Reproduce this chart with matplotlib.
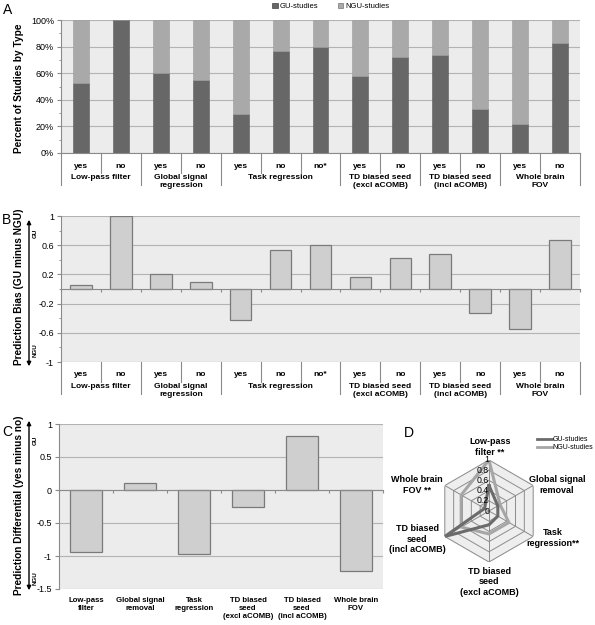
import matplotlib
matplotlib.use('Agg')
import matplotlib.pyplot as plt
import numpy as np
from matplotlib.patches import Patch, FancyArrowPatch
from matplotlib.lines import Line2D
from matplotlib.transforms import blended_transform_factory

plt.rcParams['font.family'] = ['Liberation Sans', 'DejaVu Sans']

# ---- data ----
sub_labels = ['yes', 'no', 'yes', 'no', 'yes', 'no', 'no*', 'yes', 'no', 'yes', 'no', 'yes', 'no']
groups = ['Low-pass filter', 'Global signal\nregression', 'Task regression',
          'TD biased seed\n(excl aCOMB)', 'TD biased seed\n(incl aCOMB)', 'Whole brain\nFOV']
group_sizes = [2, 2, 3, 2, 2, 2]

gu_pct = [53, 100, 60, 55, 29, 77, 80, 58, 72, 74, 33, 22, 83]
ngu_pct = [100 - v for v in gu_pct]

bias = [0.06, 1.0, 0.20, 0.09, -0.43, 0.54, 0.60, 0.17, 0.43, 0.48, -0.33, -0.55, 0.67]

diff_labels = ['Low-pass\nfilter', 'Global signal\nremoval', 'Task\nregression',
               'TD biased\nseed\n(excl aCOMB)', 'TD biased\nseed\n(incl aCOMB)', 'Whole brain\nFOV']
diff = [-0.94, 0.11, -0.97, -0.26, 0.82, -1.23]

radar_labels = ['Low-pass\nfilter **', 'Global signal\nremoval', 'Task\nregression**',
                'TD biased\nseed\n(excl aCOMB)', 'TD biased\nseed\n(incl aCOMB)', 'Whole brain\nFOV **']
radar_gu = [0.5, 0.2, 0.2, 0.27, 1.0, 0.1]
radar_ngu = [1.0, 0.25, 0.45, 0.45, 0.63, 0.63]

# ---- layout helpers (pixel coords, origin top-left) ----
W, H = 595, 625
fig = plt.figure(figsize=(W / 100, H / 100), dpi=100)


def rect(l, t, r, b):
    return [l / W, 1 - b / H, (r - l) / W, (b - t) / H]


def fx(x):
    return x / W


def fy(y):
    return 1 - y / H


EDGE = '#8a8a8a'
BG = '#ececec'
GRID = '#b3b3b3'


def style_axes(ax):
    ax.set_facecolor(BG)
    ax.grid(axis='y', color=GRID, lw=0.8)
    ax.set_axisbelow(True)
    for s in ['top', 'right']:
        ax.spines[s].set_visible(False)
    ax.spines['left'].set_color(EDGE)
    ax.spines['bottom'].set_color(EDGE)
    ax.tick_params(axis='y', labelsize=6.5, length=3, color=EDGE, pad=2)
    ax.tick_params(axis='y', which='minor', length=1.5, color=EDGE)


def draw_table(ax, bottom):
    tr = blended_transform_factory(ax.transData, fig.transFigure)
    bounds = np.cumsum([0] + group_sizes) - 0.5
    for b in bounds:
        ax.plot([b, b], [fy(bottom), fy(bottom + 32)], transform=tr,
                color=EDGE, lw=0.8, clip_on=False)
    for i in range(len(sub_labels) - 1):
        b = i + 0.5
        if b not in bounds:
            ax.plot([b, b], [fy(bottom), fy(bottom + 20)], transform=tr,
                    color=EDGE, lw=0.8, clip_on=False)
    for i, s in enumerate(sub_labels):
        ax.text(i, fy(bottom + 13), s, transform=tr, ha='center', va='center',
                fontsize=6, weight='bold')
    centers = bounds[:-1] + np.array(group_sizes) / 2
    for c, g in zip(centers, groups):
        ax.text(c, fy(bottom + 20.5), g, transform=tr, ha='center', va='top',
                fontsize=6, weight='bold', linespacing=1.35)


def side_arrow(top, bottom):
    fig.add_artist(FancyArrowPatch((fx(29), fy(top)), (fx(29), fy(bottom)),
                                   transform=fig.transFigure, arrowstyle='<|-|>',
                                   mutation_scale=6, lw=1.0, color='black'))


x = np.arange(len(sub_labels))

# ---- Panel A ----
ax_a = fig.add_axes(rect(61, 20, 580, 153))
ax_a.bar(x, gu_pct, 0.4, color='#676767', edgecolor='#5c5c5c', lw=0.4)
ax_a.bar(x, ngu_pct, 0.4, bottom=gu_pct, color='#a9a9a9', edgecolor='#9c9c9c', lw=0.4)
ax_a.set_xlim(-0.5, 12.5)
ax_a.set_ylim(0, 100)
style_axes(ax_a)
ax_a.set_yticks(np.arange(0, 101, 20))
ax_a.set_yticklabels([f'{v}%' for v in range(0, 101, 20)])
ax_a.set_yticks(np.arange(10, 100, 20), minor=True)
ax_a.set_xticks([])
draw_table(ax_a, 153)
ax_a.legend([Patch(facecolor='#676767', edgecolor='#444444', lw=0.5),
             Patch(facecolor='#a9a9a9', edgecolor='#777777', lw=0.5)],
            ['GU-studies', 'NGU-studies'], ncol=2, loc='center',
            bbox_to_anchor=(0.52, 1.1), frameon=False, fontsize=5.5,
            handlelength=0.7, handleheight=0.7, handletextpad=0.3,
            columnspacing=2.5, borderpad=0)
fig.text(fx(19), fy(88), 'Percent of Studies by Type', rotation=90,
         ha='center', va='center', fontsize=7.3, weight='bold')
fig.text(fx(3), fy(10), 'A', fontsize=10, va='center')

# ---- Panel B ----
ax_b = fig.add_axes(rect(61, 216, 580, 362))
ax_b.bar(x, bias, 0.54, color='#cfcfcf', edgecolor='#7a7a7a', lw=0.9)
ax_b.set_xlim(-0.5, 12.5)
ax_b.set_ylim(-1, 1)
style_axes(ax_b)
ax_b.set_yticks([-1, -0.6, -0.2, 0.2, 0.6, 1])
ax_b.set_yticklabels(['-1', '-0.6', '-0.2', '0.2', '0.6', '1'])
ax_b.set_yticks([-0.8, -0.4, 0, 0.4, 0.8], minor=True)
ax_b.spines['bottom'].set_position(('data', 0))
ax_b.set_xticks(np.arange(-0.5, 13, 1))
ax_b.set_xticklabels([])
ax_b.tick_params(axis='x', length=2, color=EDGE)
ax_b.axhline(-1, color=GRID, lw=0.8)
draw_table(ax_b, 362)
fig.text(fx(19), fy(287), 'Prediction Bias (GU minus NGU)', rotation=90,
         ha='center', va='center', fontsize=7.3, weight='bold')
side_arrow(217, 369)
fig.text(fx(35), fy(233), 'GU', rotation=90, ha='center', va='center', fontsize=4.5, weight='bold')
fig.text(fx(35), fy(350), 'NGU', rotation=90, ha='center', va='center', fontsize=4.5, weight='bold')
fig.text(fx(2), fy(220), 'B', fontsize=10, va='center')

# ---- Panel C ----
xc = np.arange(len(diff))
ax_c = fig.add_axes(rect(59, 424, 383, 589))
ax_c.bar(xc, diff, 0.58, color='#cfcfcf', edgecolor='#7a7a7a', lw=0.9)
ax_c.set_xlim(-0.5, 5.5)
ax_c.set_ylim(-1.5, 1)
style_axes(ax_c)
ax_c.set_yticks([-1.5, -1, -0.5, 0, 0.5, 1])
ax_c.set_yticklabels(['-1.5', '-1', '-0.5', '0', '0.5', '1'])
ax_c.spines['bottom'].set_position(('data', 0))
ax_c.set_xticks(np.arange(-0.5, 6, 1))
ax_c.set_xticklabels([])
ax_c.tick_params(axis='x', length=2, color=EDGE)
tr_c = blended_transform_factory(ax_c.transData, fig.transFigure)
for i, s in enumerate(diff_labels):
    ax_c.text(i, fy(597), s, transform=tr_c, ha='center', va='top',
              fontsize=5.6, weight='bold', linespacing=1.15)
fig.text(fx(19), fy(505), 'Prediction Differential (yes minus no)', rotation=90,
         ha='center', va='center', fontsize=7.3, weight='bold')
side_arrow(418, 593)
fig.text(fx(35), fy(440), 'GU', rotation=90, ha='center', va='center', fontsize=4.5, weight='bold')
fig.text(fx(35), fy(578), 'NGU', rotation=90, ha='center', va='center', fontsize=4.5, weight='bold')
fig.text(fx(2), fy(432), 'C', fontsize=10, va='center')

# ---- Panel D (radar) ----
ax_d = fig.add_axes(rect(438, 460, 540, 562), projection='polar')
ax_d.set_theta_zero_location('N')
ax_d.set_theta_direction(-1)
angles = np.linspace(0, 2 * np.pi, len(radar_labels), endpoint=False)
ang_closed = np.append(angles, angles[0])
ax_d.fill(ang_closed, np.ones(7), color='#eeeeee', zorder=0)
for lev in [0.2, 0.4, 0.6, 0.8, 1.0]:
    ax_d.plot(ang_closed, np.full(7, lev), color='#8c8c8c', lw=0.7, zorder=1)
for a in angles:
    ax_d.plot([a, a], [0, 1], color='#8c8c8c', lw=0.7, zorder=1)
ax_d.plot(ang_closed, np.append(radar_ngu, radar_ngu[0]), color='#a6a6a6', lw=2.2, zorder=3)
ax_d.plot(ang_closed, np.append(radar_gu, radar_gu[0]), color='#6b6b6b', lw=2.2, zorder=4)
ax_d.set_ylim(0, 1)
ax_d.set_xticks([])
ax_d.set_yticks([])
ax_d.grid(False)
ax_d.spines['polar'].set_visible(False)
ax_d.set_facecolor('none')
for lev in [0, 0.2, 0.4, 0.6, 0.8, 1.0]:
    ax_d.text(0, lev, f'{lev:g}', ha='right', va='center', fontsize=6.3, zorder=5)

label_pos = [(490, 447), (557, 485), (553, 538), (489, 582), (417, 539), (417, 485)]
for (px, py), s in zip(label_pos, radar_labels):
    fig.text(fx(px), fy(py), s, ha='center', va='center', fontsize=6.5,
             weight='bold', linespacing=1.25)

fig.legend([Line2D([], [], color='#6b6b6b', lw=2), Line2D([], [], color='#a6a6a6', lw=2)],
           ['GU-studies', 'NGU-studies'], loc='upper right',
           bbox_to_anchor=(fx(597), fy(433)), frameon=False, fontsize=5,
           handlelength=2.2, handletextpad=0.1, labelspacing=0.1, borderpad=0)
fig.text(fx(404), fy(433), 'D', fontsize=10, va='center')

fig.savefig('out.png', dpi=100)
